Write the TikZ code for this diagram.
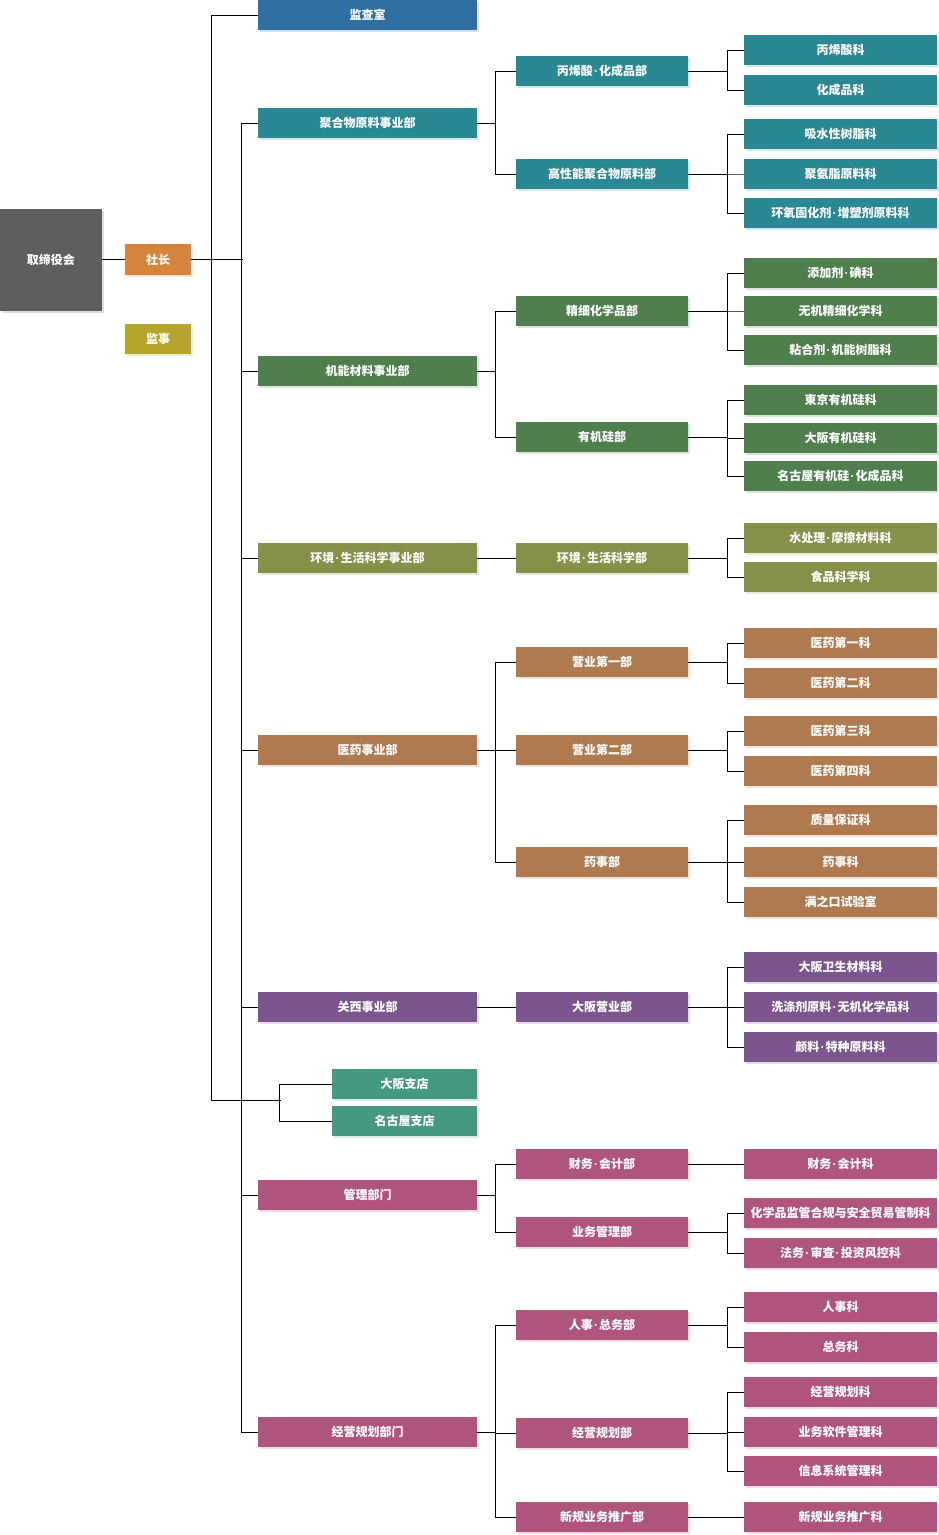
\documentclass[tikz,border=0pt]{standalone}
\usepackage{fontspec}
\newfontfamily\cjk{Noto Sans CJK SC}
\newfontfamily\latin{Liberation Sans}
\newcommand\dt{\kern1.2pt{\latin\bfseries ·}\kern1.2pt}
\usetikzlibrary{shadows}
\definecolor{board}{RGB}{94,94,94}
\definecolor{pres}{RGB}{213,132,61}
\definecolor{aud}{RGB}{182,164,44}
\definecolor{ins}{RGB}{47,111,162}
\definecolor{poly}{RGB}{42,135,148}
\definecolor{func}{RGB}{78,127,77}
\definecolor{life}{RGB}{135,144,72}
\definecolor{med}{RGB}{176,122,80}
\definecolor{kansai}{RGB}{124,85,143}
\definecolor{branch}{RGB}{69,152,130}
\definecolor{admin}{RGB}{175,84,125}

\begin{document}
\begin{tikzpicture}[x=1pt,y=-1pt,
    box/.style={fill=#1, text=white, inner sep=0pt, minimum height=30pt,
        font=\cjk\bfseries\fontsize{12}{14}\selectfont,
        drop shadow={shadow xshift=2pt, shadow yshift=-2pt, fill=#1!20, opacity=1}},
    unit/.style={box=#1, minimum width=219pt},
    dept/.style={box=#1, minimum width=172pt},
    sect/.style={box=#1, minimum width=193pt},
    link/.style={draw=black, line width=1pt}]
    \useasboundingbox (0,0) rectangle (939,1535);

    % top level
    \node[box=board, minimum width=102pt, minimum height=102pt] (board) at (51,259.5) {取缔役会};
    \node[box=pres, minimum width=66pt, minimum height=31pt] (pres) at (158,259.5) {社长};
    \node[box=aud, minimum width=66pt] (aud) at (158,339) {监事};
    \node[unit=ins] (ins) at (367.5,15) {监查室};
    \coordinate (jI) at (243,259.5);
    \coordinate (jB) at (281,1100);

    % polymer
    \node[unit=poly] (bu1) at (367.5,123) {聚合物原料事业部};
    \node[dept=poly] (d11) at (602,71) {丙烯酸\dt 化成品部};
    \node[dept=poly] (d12) at (602,174) {高性能聚合物原料部};
    \node[sect=poly] (s111) at (840.5,50) {丙烯酸科};
    \node[sect=poly] (s112) at (840.5,90) {化成品科};
    \node[sect=poly] (s121) at (840.5,134) {吸水性树脂科};
    \node[sect=poly] (s122) at (840.5,174) {聚氨脂原料科};
    \node[sect=poly] (s123) at (840.5,213) {环氧固化剂\dt 增塑剂原料科};

    % functional materials
    \node[unit=func] (bu2) at (367.5,371) {机能材料事业部};
    \node[dept=func] (d21) at (602,311) {精细化学品部};
    \node[dept=func] (d22) at (602,437) {有机硅部};
    \node[sect=func] (s211) at (840.5,273) {添加剂\dt 碘科};
    \node[sect=func] (s212) at (840.5,311) {无机精细化学科};
    \node[sect=func] (s213) at (840.5,350) {粘合剂\dt 机能树脂科};
    \node[sect=func] (s221) at (840.5,400) {東京有机硅科};
    \node[sect=func] (s222) at (840.5,438) {大阪有机硅科};
    \node[sect=func] (s223) at (840.5,476) {名古屋有机硅\dt 化成品科};

    % life science
    \node[unit=life] (bu3) at (367.5,558) {环境\dt 生活科学事业部};
    \node[dept=life] (d31) at (602,558) {环境\dt 生活科学部};
    \node[sect=life] (s311) at (840.5,538) {水处理\dt 摩擦材料科};
    \node[sect=life] (s312) at (840.5,577) {食品科学科};

    % pharma
    \node[unit=med] (bu4) at (367.5,750) {医药事业部};
    \node[dept=med] (d41) at (602,662) {营业第一部};
    \node[dept=med] (d42) at (602,750) {营业第二部};
    \node[dept=med] (d43) at (602,862) {药事部};
    \node[sect=med] (s411) at (840.5,643) {医药第一科};
    \node[sect=med] (s412) at (840.5,683) {医药第二科};
    \node[sect=med] (s421) at (840.5,731) {医药第三科};
    \node[sect=med] (s422) at (840.5,771) {医药第四科};
    \node[sect=med] (s431) at (840.5,820) {质量保证科};
    \node[sect=med] (s432) at (840.5,862) {药事科};
    \node[sect=med] (s433) at (840.5,902) {满之口试验室};

    % kansai
    \node[unit=kansai] (bu5) at (367.5,1007) {关西事业部};
    \node[dept=kansai] (d51) at (602,1007) {大阪营业部};
    \node[sect=kansai] (s511) at (840.5,967) {大阪卫生材料科};
    \node[sect=kansai] (s512) at (840.5,1007) {洗涤剂原料\dt 无机化学品科};
    \node[sect=kansai] (s513) at (840.5,1047) {颜料\dt 特种原料科};

    % branches
    \node[box=branch, minimum width=145pt] (br1) at (404.5,1084) {大阪支店};
    \node[box=branch, minimum width=145pt] (br2) at (404.5,1121) {名古屋支店};

    % administration
    \node[unit=admin] (bu6) at (367.5,1195) {管理部门};
    \node[dept=admin] (d61) at (602,1164) {财务\dt 会计部};
    \node[dept=admin] (d62) at (602,1232) {业务管理部};
    \node[sect=admin] (s611) at (840.5,1164) {财务\dt 会计科};
    \node[sect=admin] (s621) at (840.5,1213) {化学品监管合规与安全贸易管制科};
    \node[sect=admin] (s622) at (840.5,1253) {法务\dt 审查\dt 投资风控科};

    % planning
    \node[unit=admin] (bu7) at (367.5,1432) {经营规划部门};
    \node[dept=admin] (d71) at (602,1325) {人事\dt 总务部};
    \node[dept=admin] (d72) at (602,1433) {经营规划部};
    \node[dept=admin] (d73) at (602,1517) {新规业务推广部};
    \node[sect=admin] (s711) at (840.5,1307) {人事科};
    \node[sect=admin] (s712) at (840.5,1347) {总务科};
    \node[sect=admin] (s721) at (840.5,1392) {经营规划科};
    \node[sect=admin] (s722) at (840.5,1432) {业务软件管理科};
    \node[sect=admin] (s723) at (840.5,1471) {信息系统管理科};
    \node[sect=admin] (s731) at (840.5,1517) {新规业务推广科};

    % trunks
    \draw[link] (board.east) -- (pres.west);
    \draw[link] (pres.east) -- (jI);
    \draw[link] (ins.west) -- ++(-46,0) |- (jB);
    \foreach \c in {br1,br2} \draw[link] (\c.west) -- ++(-52,0) |- (jB);
    \foreach \c in {bu1,bu2,bu3,bu4,bu5,bu6,bu7} \draw[link] (\c.west) -- ++(-16,0) |- (jI);

    % units to departments
    \foreach \c in {d11,d12} \draw[link] (\c.west) -- ++(-20,0) |- (bu1.east);
    \foreach \c in {d21,d22} \draw[link] (\c.west) -- ++(-20,0) |- (bu2.east);
    \draw[link] (bu3.east) -- (d31.west);
    \foreach \c in {d41,d42,d43} \draw[link] (\c.west) -- ++(-20,0) |- (bu4.east);
    \draw[link] (bu5.east) -- (d51.west);
    \foreach \c in {d61,d62} \draw[link] (\c.west) -- ++(-20,0) |- (bu6.east);
    \foreach \c in {d71,d72,d73} \draw[link] (\c.west) -- ++(-20,0) |- (bu7.east);

    % departments to sections
    \foreach \c in {s111,s112} \draw[link] (\c.west) -- ++(-16,0) |- (d11.east);
    \foreach \c in {s121,s122,s123} \draw[link] (\c.west) -- ++(-16,0) |- (d12.east);
    \foreach \c in {s211,s212,s213} \draw[link] (\c.west) -- ++(-16,0) |- (d21.east);
    \foreach \c in {s221,s222,s223} \draw[link] (\c.west) -- ++(-16,0) |- (d22.east);
    \foreach \c in {s311,s312} \draw[link] (\c.west) -- ++(-16,0) |- (d31.east);
    \foreach \c in {s411,s412} \draw[link] (\c.west) -- ++(-16,0) |- (d41.east);
    \foreach \c in {s421,s422} \draw[link] (\c.west) -- ++(-16,0) |- (d42.east);
    \foreach \c in {s431,s432,s433} \draw[link] (\c.west) -- ++(-16,0) |- (d43.east);
    \foreach \c in {s511,s512,s513} \draw[link] (\c.west) -- ++(-16,0) |- (d51.east);
    \draw[link] (d61.east) -- (s611.west);
    \foreach \c in {s621,s622} \draw[link] (\c.west) -- ++(-16,0) |- (d62.east);
    \foreach \c in {s711,s712} \draw[link] (\c.west) -- ++(-16,0) |- (d71.east);
    \foreach \c in {s721,s722,s723} \draw[link] (\c.west) -- ++(-16,0) |- (d72.east);
    \draw[link] (d73.east) -- (s731.west);
\end{tikzpicture}
\end{document}
